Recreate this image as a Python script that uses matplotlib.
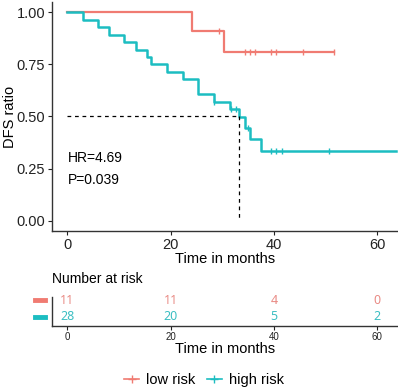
import numpy as np
import matplotlib
matplotlib.use("Agg")
import matplotlib.pyplot as plt
from matplotlib.lines import Line2D
import matplotlib.transforms as mtrans

plt.rcParams['font.family'] = ['Liberation Sans', 'DejaVu Sans']

#Colours of the two groups
red = '#F07B72'
teal = '#1CBDC1'

#Low risk curve: step times and survival after each step
low_t = [0, 24.2, 30.4, 51.7]
low_s = [1.0, 0.909, 0.808, 0.808]
low_cens_t = [29.4, 34.4, 35.4, 36.4, 39.5, 40.4, 45.6, 51.7]
low_cens_s = [0.909, 0.808, 0.808, 0.808, 0.808, 0.808, 0.808, 0.808]

#High risk curve
high_t = [0, 3.0, 6.0, 8.0, 11.0, 13.2, 15.3, 16.2, 19.2, 22.4, 25.3,
          28.3, 31.4, 33.3, 34.3, 35.4, 37.5, 63.6]
high_s = [1.0, 0.964, 0.929, 0.893, 0.857, 0.821, 0.786, 0.750, 0.714,
          0.679, 0.607, 0.572, 0.536, 0.498, 0.445, 0.392, 0.336, 0.336]
high_cens_t = [28.3, 31.6, 32.6, 35.0, 39.4, 40.4, 41.5, 50.7]
high_cens_s = [0.572, 0.536, 0.536, 0.445, 0.336, 0.336, 0.336, 0.336]

#Median survival of the high risk group
median_t = 33.3

#Number at risk table
risk_times = [0, 20, 40, 60]
low_risk_n = [11, 11, 4, 0]
high_risk_n = [28, 20, 5, 2]

W, H = 398, 391
fig = plt.figure(figsize=(W / 100, H / 100), dpi=100)

def px_axes(left, top, right, bottom):
    return fig.add_axes([left / W, 1 - bottom / H, (right - left) / W, (bottom - top) / H])

#Main survival plot
ax = px_axes(52, 2, 398, 231)
ax.plot(low_t, low_s, drawstyle='steps-post', color=red, lw=1.6)
ax.plot(high_t, high_s, drawstyle='steps-post', color=teal, lw=1.8)
ax.plot(low_cens_t, low_cens_s, ls='none', marker='|', ms=5, mew=1, color=red)
ax.plot(high_cens_t, high_cens_s, ls='none', marker='|', ms=5, mew=1, color=teal)

ax.plot([0, median_t], [0.5, 0.5], ls=(0, (3, 3)), color='black', lw=0.9)
ax.plot([median_t, median_t], [0.5, 0], ls=(0, (3, 3)), color='black', lw=0.9)

ax.text(0, 0.30, 'HR=4.69', fontsize=10, va='center', ha='left')
ax.text(0, 0.195, 'P=0.039', fontsize=10, va='center', ha='left')

ax.set_xlim(-3, 64)
ax.set_ylim(-0.05, 1.05)
ax.set_xticks([0, 20, 40, 60])
ax.set_yticks([0, 0.25, 0.5, 0.75, 1.0])
ax.set_yticklabels(['0.00', '0.25', '0.50', '0.75', '1.00'])
ax.tick_params(labelsize=10.5, length=3, width=0.8, colors='#222222', pad=2)
ax.set_xlabel('Time in months', fontsize=10.5, labelpad=0)
ax.set_ylabel('DFS ratio', fontsize=10.5)
ax.yaxis.set_label_coords(-0.102, 0.5)
for s in ['top', 'right']:
    ax.spines[s].set_visible(False)
for s in ['left', 'bottom']:
    ax.spines[s].set_color('#333333')
    ax.spines[s].set_linewidth(1.0)

#Risk table
ax2 = px_axes(52, 297, 398, 326)
for t, n in zip(risk_times, low_risk_n):
    ax2.text(t, 0, str(n), color='#E98A84', fontsize=9, ha='center', va='center',
             family=['Noto Sans', 'DejaVu Sans'])
for t, n in zip(risk_times, high_risk_n):
    ax2.text(t, 1, str(n), color='#3DBFC3', fontsize=9, ha='center', va='center',
             family=['Noto Sans', 'DejaVu Sans'])
ax2.set_xlim(-3, 64)
ax2.set_ylim(1.56, -0.18)
ax2.set_yticks([])
ax2.set_xticks(risk_times)
ax2.tick_params(labelsize=7, length=3, width=0.8, colors='#222222', pad=1)
ax2.set_xlabel('Time in months', fontsize=10.5, labelpad=0)
for s in ['top', 'right']:
    ax2.spines[s].set_visible(False)
for s in ['left', 'bottom']:
    ax2.spines[s].set_color('#333333')
    ax2.spines[s].set_linewidth(1.0)
ax2.set_title('Number at risk', fontsize=10, loc='left', x=0, pad=10)

#Coloured dashes in front of the risk rows
tr = mtrans.blended_transform_factory(ax2.transAxes, ax2.transData)
for yy, c in [(0, red), (1, teal)]:
    ax2.add_line(Line2D([-0.05, -0.02], [yy, yy], transform=tr, color=c,
                        lw=3.5, clip_on=False))

#Legend
handles = [Line2D([], [], color=red, marker='+', ms=6, lw=1.2),
           Line2D([], [], color=teal, marker='+', ms=6, lw=1.2)]
fig.legend(handles, ['low risk', 'high risk'], loc='center', ncol=2,
           bbox_to_anchor=(0.513, 1 - 380 / H), frameon=False, fontsize=10.5,
           handlelength=1.0, handletextpad=0.5, columnspacing=0.8)

fig.savefig('out.png', dpi=100)
